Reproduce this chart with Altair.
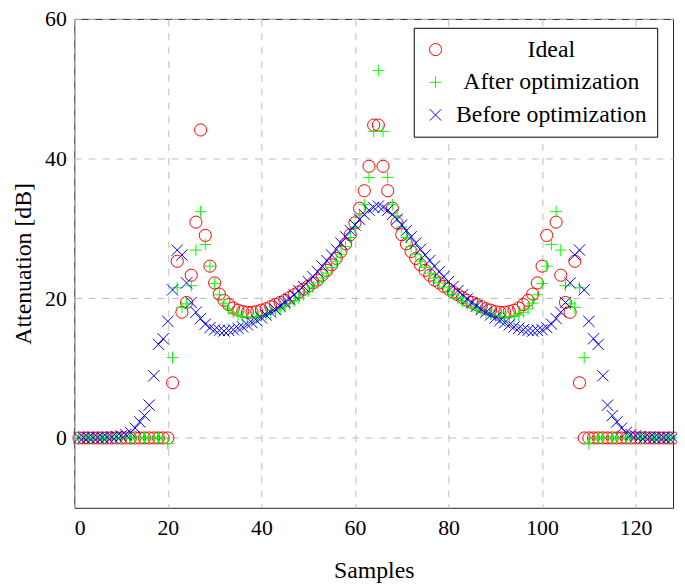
import altair as alt
import pandas as pd

# ---------------- data ----------------
samples = list(range(1, 129))

ideal = [0, 0, 0, 0, 0, 0, 0, 0, 0, 0,
         0, 0, 0, 0, 0, 0, 0, 0, 0, 0,
         7.9, 25.3, 18.0, 19.4, 23.3, 30.9, 44.1, 29.0, 24.6, 22.2,
         20.6, 19.7, 19.1, 18.6, 18.3, 18.1, 18.0, 18.0, 18.1, 18.3,
         18.5, 18.8, 19.1, 19.4, 19.7, 20.1, 20.5, 20.9, 21.3, 21.7,
         22.2, 22.6, 23.3, 24.0, 24.8, 25.7, 26.7, 27.8, 29.1, 30.8,
         32.9, 35.4, 38.9, 44.8, 44.8, 38.9, 35.4, 32.9, 30.8, 29.1,
         27.8, 26.7, 25.7, 24.8, 24.0, 23.3, 22.6, 22.2, 21.7, 21.3,
         20.9, 20.5, 20.1, 19.7, 19.4, 19.1, 18.8, 18.5, 18.3, 18.1,
         18.0, 18.0, 18.1, 18.3, 18.6, 19.1, 19.7, 20.6, 22.2, 24.6,
         29.0, None, 30.9, 23.3, 19.4, 18.0, 25.3, 7.9, 0, 0,
         0, 0, 0, 0, 0, 0, 0, 0, 0, 0,
         0, 0, 0, 0, 0, 0, 0, 0]

after = [0, 0, 0, 0, 0, 0, 0, 0, 0, 0,
         0, 0, 0, 0, 0, 0, 0, 0, 0, -0.8,
         11.5, 21.5, 18.7, 19.2, 21.8, 26.9, 32.4, 27.7, 24.6, 22.1,
         20.5, 19.3, 18.5, 18.0, 17.6, 17.4, 17.3, 17.3, 17.4, 17.5,
         17.7, 17.9, 18.2, 18.5, 18.8, 19.2, 19.6, 20.0, 20.5, 21.0,
         21.6, 22.2, 22.9, 23.6, 24.4, 25.3, 26.3, 27.4, 28.7, 30.2,
         31.8, 33.4, 37.3, 43.9, 52.6, 43.9, 37.3, 33.4, 31.8, 30.2,
         28.7, 27.4, 26.3, 25.3, 24.4, 23.6, 22.9, 22.2, 21.6, 21.0,
         20.5, 20.0, 19.6, 19.2, 18.8, 18.5, 18.2, 17.9, 17.7, 17.5,
         17.4, 17.3, 17.3, 17.4, 17.6, 18.0, 18.5, 19.3, 20.5, 22.1,
         24.6, 27.7, 32.4, 26.9, 21.8, 19.2, 18.7, 21.5, 11.5, -0.8,
         0, 0, 0, 0, 0, 0, 0, 0, 0, 0,
         0, 0, 0, 0, 0, 0, 0, 0]

before = [0.05, 0.05, 0.05, 0.05, 0.06, 0.07, 0.09, 0.12, 0.2, 0.3,
          0.5, 0.8, 1.4, 2.3, 3.2, 4.7, 8.9, 13.4, 14.2, 16.7,
          21.2, 26.9, 26.2, 22.2, 19.4, 18.0, 17.1, 16.3, 15.8, 15.5,
          15.4, 15.3, 15.4, 15.5, 15.7, 15.9, 16.2, 16.5, 16.8, 17.2,
          17.6, 18.0, 18.4, 18.9, 19.4, 19.9, 20.5, 21.1, 21.7, 22.4,
          23.1, 23.8, 24.6, 25.4, 26.2, 27.0, 27.9, 28.8, 29.7, 30.5,
          31.3, 32.0, 32.6, 33.0, 33.2, 33.0, 32.6, 32.0, 31.3, 30.5,
          29.7, 28.8, 27.9, 27.0, 26.2, 25.4, 24.6, 23.8, 23.1, 22.4,
          21.7, 21.1, 20.5, 19.9, 19.4, 18.9, 18.4, 18.0, 17.6, 17.2,
          16.8, 16.5, 16.2, 15.9, 15.7, 15.5, 15.4, 15.3, 15.4, 15.5,
          15.8, 16.3, 17.1, 18.0, 19.4, 22.2, 26.2, 26.9, 21.2, 16.7,
          14.2, 13.4, 8.9, 4.7, 3.2, 2.3, 1.4, 0.8, 0.5, 0.3,
          0.2, 0.12, 0.09, 0.07, 0.06, 0.05, 0.05, 0.05]

series_names = ["Ideal", "After optimization", "Before optimization"]
series_colors = ["#ff0000", "#00ff00", "#0000ff"]
series_shapes = ["circle", "M-1,0L1,0M0,-1L0,1", "M-1,-1L1,1M-1,1L1,-1"]
series_sizes = [150, 130, 90]

x_ticks = [0, 20, 40, 60, 80, 100, 120]
y_ticks = [0, 20, 40, 60]

# ---------------- table ----------------
rows = []
idx = 0
for name, vals in zip(series_names, [ideal, after, before]):
    for s, v in zip(samples, vals):
        if v is None:
            continue
        rows.append({"x": s, "y": v, "series": name, "idx": idx})
        idx += 1
df = pd.DataFrame(rows)

FONT = "Liberation Serif"

legend = alt.Legend(
    title=None, orient="none", legendX=343, legendY=9,
    fillColor="white", strokeColor="black",
    padding=10, labelFont=FONT, labelFontSize=24, labelColor="black",
    labelAlign="center", labelOffset=105, labelLimit=400,
    rowPadding=9, symbolStrokeWidth=1, symbolFillColor="transparent",
)

chart = alt.Chart(df).mark_point(filled=False, strokeWidth=1, opacity=1).encode(
    x=alt.X("x:Q", scale=alt.Scale(domain=[0, 128], nice=False, zero=False),
            axis=alt.Axis(values=x_ticks, title="Samples", grid=True, ticks=False,
                          domain=False, labelPadding=10, titlePadding=20)),
    y=alt.Y("y:Q", scale=alt.Scale(domain=[-10, 60], nice=False, zero=False),
            axis=alt.Axis(values=y_ticks, title="Attenuation [dB]", grid=True, ticks=False,
                          domain=False, labelPadding=8, titlePadding=9)),
    color=alt.Color("series:N", scale=alt.Scale(domain=series_names, range=series_colors),
                    legend=legend, sort=series_names),
    shape=alt.Shape("series:N", scale=alt.Scale(domain=series_names, range=series_shapes),
                    legend=legend, sort=series_names),
    size=alt.Size("series:N", scale=alt.Scale(domain=series_names, range=series_sizes),
                  legend=legend, sort=series_names),
    order=alt.Order("idx:Q"),
).properties(
    width=605, height=494,
    padding={"left": 67, "top": 8, "right": 4, "bottom": 76},
    autosize=alt.AutoSizeParams(type="none"),
).configure_view(
    stroke="#222222", strokeWidth=1
).configure_axis(
    labelFont=FONT, labelFontSize=22, labelColor="black",
    titleFont=FONT, titleFontSize=24, titleFontWeight="normal", titleColor="black",
    gridColor="#bbbbbb", gridDash=[7, 7], gridWidth=1,
).configure_legend(
    strokeWidth=1
)

chart.save("out.html", embed_options={"renderer": "svg", "actions": False})
